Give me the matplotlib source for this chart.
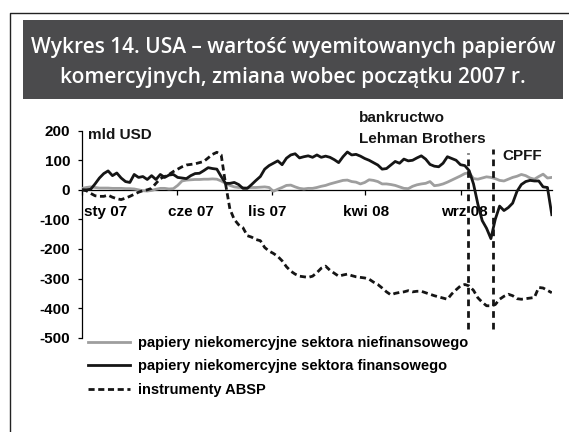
import matplotlib
matplotlib.use("Agg")
import matplotlib.pyplot as plt
from matplotlib.patches import Rectangle
from matplotlib.lines import Line2D

# ---------------- data (weekly, change vs start of 2007, bn USD) ----------------
weeks = list(range(109))

nonfinancial = [5, 8, 10, 8, 6, 6, 6, 5, 5, 5, 4, 4, 3, 0, -3, -4, -2, 2, 5, 5,
                3, 4, 15, 30, 33, 34, 35, 35, 36, 36, 37, 36, 30, 22, 15, 10, 8, 8, 7, 8,
                8, 9, 10, 8, -5, 2, 8, 15, 16, 10, 5, 3, 5, 5, 8, 12, 15, 20, 24, 28,
                32, 33, 28, 26, 20, 25, 34, 32, 28, 20, 20, 18, 15, 10, 5, 4, 12, 17, 20, 22,
                28, 14, 16, 20, 26, 33, 40, 47, 55, 58, 38, 36, 40, 44, 42, 38, 32, 30, 36, 42,
                46, 52, 48, 40, 36, 45, 53, 40, 42]

financial = [0, 0, 2, 20, 40, 55, 64, 48, 57, 40, 28, 25, 52, 42, 45, 35, 48, 35, 52, 42,
             50, 52, 42, 40, 38, 48, 55, 56, 65, 75, 72, 70, 45, 22, 22, 25, 18, 5, 5, 18,
             32, 45, 70, 82, 90, 98, 85, 107, 118, 122, 108, 112, 115, 110, 118, 110, 114, 110, 102, 92,
             112, 128, 118, 120, 114, 106, 100, 92, 84, 70, 72, 84, 96, 90, 104, 98, 100, 108, 115, 104,
             86, 80, 78, 90, 112, 106, 100, 85, 82, 65, 20, -48, -104, -130, -165, -100, -55, -70, -60, -45,
             -5, 18, 28, 32, 30, 30, 10, 8, -84]

absp = [0, -3, -12, -20, -22, -22, -18, -25, -30, -33, -28, -22, -15, -8, -3, 0, 5, 22, 38, 45,
        52, 62, 70, 78, 84, 86, 88, 92, 96, 108, 120, 127, 118, 20, -65, -100, -118, -128, -155, -160,
        -168, -172, -195, -207, -215, -225, -240, -260, -275, -285, -292, -294, -296, -292, -280, -265, -258, -272, -282, -292,
        -288, -285, -290, -294, -296, -298, -302, -312, -320, -332, -345, -355, -350, -347, -345, -341, -345, -343, -343, -348,
        -353, -358, -362, -366, -370, -352, -338, -325, -320, -325, -340, -365, -380, -392, -392, -388, -370, -360, -353, -358,
        -368, -370, -368, -366, -364, -330, -332, -340, -348]

series_labels = ["papiery niekomercyjne sektora niefinansowego",
                 "papiery niekomercyjne sektora finansowego",
                 "instrumenty ABSP"]

xtick_marks = [0, 21.9, 43.75, 65.1, 87.1]
xlabel_pos = [5.5, 25.1, 42.5, 65.3, 88.0]
xlabel_text = ["sty 07", "cze 07", "lis 07", "kwi 08", "wrz 08"]
yticks = [200, 100, 0, -100, -200, -300, -400, -500]

event_weeks = [88.8, 94.5]
event_top = [126, 137]
event_bottom = -470

title_lines = ["Wykres 14. USA – wartość wyemitowanych papierów",
               "komercyjnych, zmiana wobec początku 2007 r."]

# ---------------- figure ----------------
W, H = 569, 432
fig = plt.figure(figsize=(W / 100, H / 100), dpi=100)
fig.patch.set_facecolor("white")

def fx(px):
    return px / W

def fy(py):
    return 1 - py / H

# outer frame (left and top)
fig.add_artist(Line2D([fx(9.5), fx(9.5), fx(569)], [0, fy(12.5), fy(12.5)],
                      color="#222222", lw=1.0, transform=fig.transFigure))

# title box
fig.add_artist(Rectangle((fx(23), fy(99)), fx(563) - fx(23), fy(20) - fy(99),
                         transform=fig.transFigure, facecolor="#4b4b4d",
                         edgecolor="none"))
fig.text(fx(293), fy(47), title_lines[0], color="white", fontsize=15,
         family="Open Sans", fontweight=600, ha="center", va="center")
fig.text(fx(293), fy(78), title_lines[1], color="white", fontsize=15,
         family="Open Sans", fontweight=600, ha="center", va="center")

# axes
ax_left, ax_right = 82, 551.8
ax_top, ax_bottom = 130.7, 337.7
ax = fig.add_axes([fx(ax_left), fy(ax_bottom), fx(ax_right) - fx(ax_left),
                   fy(ax_top) - fy(ax_bottom)])
ax.set_xlim(0, 108)
ax.set_ylim(-500, 200)
ax.patch.set_alpha(0)

lw = 2.0
l1, = ax.plot(weeks, nonfinancial, color="#9e9e9e", lw=lw, solid_joinstyle="round",
              label=series_labels[0], zorder=3)
l2, = ax.plot(weeks, financial, color="#151515", lw=lw, solid_joinstyle="round",
              label=series_labels[1], zorder=4)
l3, = ax.plot(weeks, absp, color="#151515", lw=lw, dashes=(2.2, 1.3),
              label=series_labels[2], zorder=4)

for xw, top in zip(event_weeks, event_top):
    ax.plot([xw, xw], [event_bottom, top], color="#151515", lw=2.0,
            dashes=(2.4, 1.8), zorder=5, clip_on=False)

for s in ["top", "right"]:
    ax.spines[s].set_visible(False)
ax.spines["bottom"].set_position(("data", 0))
ax.spines["bottom"].set_linewidth(0.9)
ax.spines["left"].set_linewidth(0.9)
ax.spines["bottom"].set_zorder(2)

ax.set_yticks(yticks)
ax.set_yticklabels([str(v) for v in yticks])
ax.tick_params(axis="y", direction="out", length=3, width=0.9, pad=5.5,
               labelsize=11)
for t in ax.get_yticklabels():
    t.set_fontweight("bold")
    t.set_family("Liberation Sans")

ax.set_xticks(xtick_marks)
ax.set_xticklabels([""] * len(xtick_marks))
ax.tick_params(axis="x", which="major", direction="out", length=3.5, width=0.9)
ax.set_xticks(xlabel_pos, minor=True)
ax.set_xticklabels(xlabel_text, minor=True)
ax.tick_params(axis="x", which="minor", length=0, pad=11, labelsize=11)
for t in ax.get_xticklabels(minor=True):
    t.set_fontweight("bold")
    t.set_family("Liberation Sans")

txt_kw = dict(fontsize=11, fontweight="bold", family="Liberation Sans",
              color="#151515", va="center", ha="left")
ax.text(1.4, 186, "mld USD", **txt_kw)
ax.text(63.7, 243, "bankructwo", clip_on=False, **txt_kw)
ax.text(63.7, 172, "Lehman Brothers", clip_on=False, **txt_kw)
ax.text(96.6, 115, "CPFF", **txt_kw)

leg = fig.legend(handles=[l1, l2, l3], labels=series_labels,
                 loc="upper left", bbox_to_anchor=(fx(88), fy(336)),
                 frameon=False, handlelength=2.9, handletextpad=0.55,
                 labelspacing=0.65, borderpad=0, borderaxespad=0,
                 prop=dict(family="Liberation Sans", weight="bold", size=10.5))

fig.savefig("out.png", dpi=100)
